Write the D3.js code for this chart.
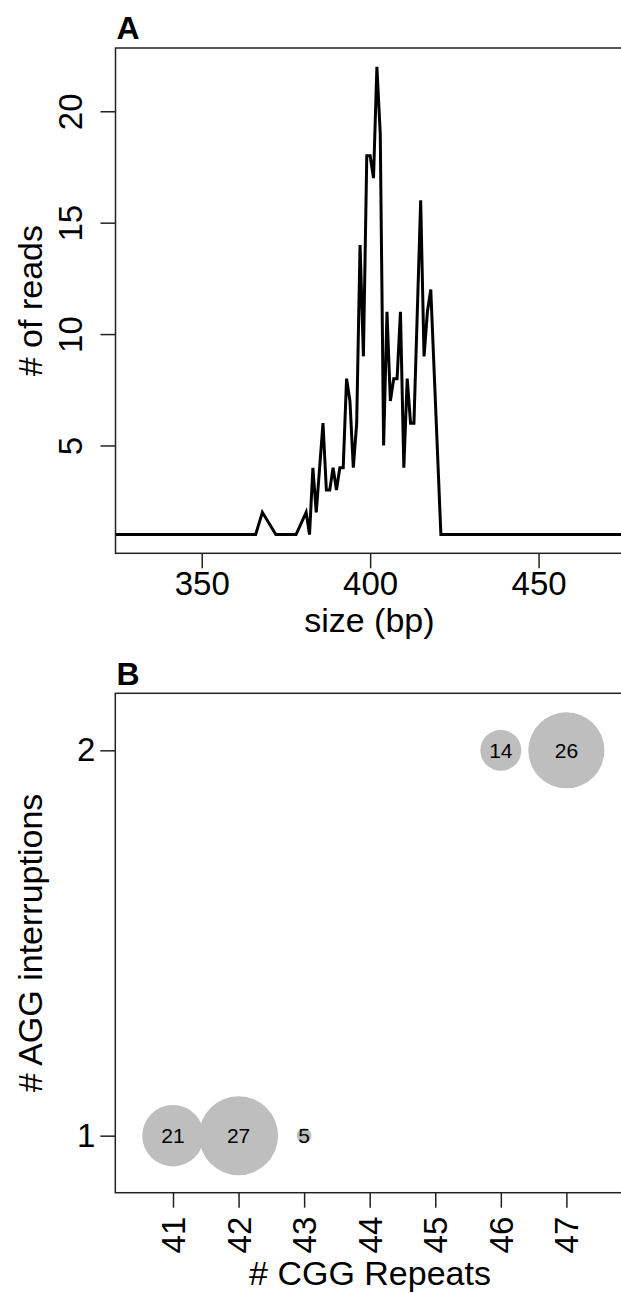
<!DOCTYPE html>
<html>
<head>
<meta charset="utf-8">
<script src="https://cdn.jsdelivr.net/npm/d3@7"></script>
<style>
  html, body { margin: 0; padding: 0; background: #fff; }
  svg text { font-family: "Liberation Sans", Arial, Helvetica, sans-serif; fill: #000; }
</style>
</head>
<body>
<div class="visHolder"></div>
<script>
// panel A: read length distribution
const sizes = [320, 366, 368, 372, 378, 381, 382, 383, 384, 385, 386, 387, 388, 389, 390, 391, 392,
  393, 394, 395, 396, 397, 398, 399, 400, 401, 402, 403, 404, 405, 406, 407, 408, 409, 410, 411,
  412, 413, 415, 416, 417, 418, 421, 480];
const reads = [1, 1, 2, 1, 1, 2, 1, 4, 2, 4, 6, 3, 3, 4, 3, 4, 4,
  8, 7, 4, 6, 14, 9, 18, 18, 17, 22, 19, 5, 11, 7, 8, 8, 11, 4, 8,
  6, 6, 16, 9, 11, 12, 1, 1];
const sizeTicks = [350, 400, 450];
const readTicks = [5, 10, 15, 20];

// panel B: repeat length vs AGG interruptions
const cggRepeats = [41, 42, 43, 46, 47];
const aggInterruptions = [1, 1, 1, 2, 2];
const alleleCounts = [21, 27, 5, 14, 26];
const cggTicks = [41, 42, 43, 44, 45, 46, 47];
const aggTicks = [1, 2];

const w = 621, h = 1293;
const boxStroke = '#222';
const tickLen = 15;

const svg = d3.select('.visHolder')
  .append('svg')
  .attr('width', w)
  .attr('height', h)
  .attr('viewBox', `0 0 ${w} ${h}`);

// ---------- panel A ----------
const ax = {left: 115.5, right: 624.8, top: 48, bottom: 553.3};

const xA = d3.scaleLinear().domain([324.4, 475.6]).range([ax.left, ax.right]);
const yA = d3.scaleLinear().domain([0.16, 22.84]).range([ax.bottom, ax.top]);

svg.append('clipPath')
  .attr('id', 'clipA')
  .append('rect')
  .attr('x', ax.left).attr('y', ax.top)
  .attr('width', ax.right - ax.left).attr('height', ax.bottom - ax.top);

const lineData = sizes.map((s, i) => ({size: s, reads: reads[i]}));

svg.append('path')
  .datum(lineData)
  .attr('clip-path', 'url(#clipA)')
  .attr('fill', 'none')
  .attr('stroke', '#000')
  .attr('stroke-width', 3)
  .attr('d', d3.line()
    .x(d => xA(d.size))
    .y(d => yA(d.reads))
  );

svg.append('rect')
  .attr('x', ax.left).attr('y', ax.top)
  .attr('width', ax.right - ax.left).attr('height', ax.bottom - ax.top)
  .attr('fill', 'none')
  .attr('stroke', boxStroke)
  .attr('stroke-width', 1.5);

const xAxisA = svg.append('g')
  .attr('transform', `translate(0, ${ax.bottom})`)
  .call(d3.axisBottom(xA).tickValues(sizeTicks).tickSize(tickLen).tickSizeOuter(0).tickPadding(3));
xAxisA.select('.domain').remove();
xAxisA.selectAll('line').attr('stroke', boxStroke).attr('stroke-width', 1.5);
xAxisA.selectAll('text')
  .attr('font-size', 33)
  .attr('font-family', null)
  .attr('fill', '#000');

const yAxisA = svg.append('g')
  .attr('transform', `translate(${ax.left}, 0)`)
  .call(d3.axisLeft(yA).tickValues(readTicks).tickSize(tickLen).tickSizeOuter(0));
yAxisA.select('.domain').remove();
yAxisA.selectAll('line').attr('stroke', boxStroke).attr('stroke-width', 1.5);
// R style: y labels parallel to the axis
yAxisA.selectAll('text')
  .attr('font-size', 33)
  .attr('font-family', null)
  .attr('fill', '#000')
  .attr('x', 0).attr('y', 0).attr('dy', null)
  .attr('text-anchor', 'middle')
  .attr('transform', `translate(${81.7 - ax.left}, 0) rotate(-90)`);

svg.append('text')
  .attr('x', 369.4)
  .attr('y', 632)
  .attr('text-anchor', 'middle')
  .attr('font-size', 34)
  .text('size (bp)');

svg.append('text')
  .attr('transform', `translate(41.7, ${(ax.top + ax.bottom) / 2}) rotate(-90)`)
  .attr('text-anchor', 'middle')
  .attr('font-size', 34)
  .text('# of reads');

svg.append('text')
  .attr('x', 116.5)
  .attr('y', 39)
  .attr('font-size', 32)
  .attr('font-weight', 'bold')
  .text('A');

// ---------- panel B ----------
const bx = {left: 115.3, right: 625.4, top: 693.3, bottom: 1192.7};

const xB = d3.scaleLinear().domain([40.12, 47.9]).range([bx.left, bx.right]);
const yB = d3.scaleLinear().domain([0.852, 2.148]).range([bx.bottom, bx.top]);
const rB = d3.scaleLinear().domain([0, d3.max(alleleCounts)]).range([0, 39.5]);

const bubbles = cggRepeats.map((c, i) => ({cgg: c, agg: aggInterruptions[i], n: alleleCounts[i]}));

svg.selectAll('.bubble')
  .data(bubbles)
  .enter()
  .append('circle')
  .attr('class', 'bubble')
  .attr('cx', d => xB(d.cgg))
  .attr('cy', d => yB(d.agg))
  .attr('r', d => rB(d.n))
  .attr('fill', '#bebebe');

svg.selectAll('.bubble-label')
  .data(bubbles)
  .enter()
  .append('text')
  .attr('class', 'bubble-label')
  .attr('x', d => xB(d.cgg))
  .attr('y', d => yB(d.agg))
  .attr('dy', '0.35em')
  .attr('text-anchor', 'middle')
  .attr('font-size', 21)
  .text(d => d.n);

svg.append('rect')
  .attr('x', bx.left).attr('y', bx.top)
  .attr('width', bx.right - bx.left).attr('height', bx.bottom - bx.top)
  .attr('fill', 'none')
  .attr('stroke', boxStroke)
  .attr('stroke-width', 1.5);

const xAxisB = svg.append('g')
  .attr('transform', `translate(0, ${bx.bottom})`)
  .call(d3.axisBottom(xB).tickValues(cggTicks).tickSize(tickLen).tickSizeOuter(0));
xAxisB.select('.domain').remove();
xAxisB.selectAll('line').attr('stroke', boxStroke).attr('stroke-width', 1.5);
// labels perpendicular to the axis (las = 2)
xAxisB.selectAll('text')
  .attr('font-size', 33)
  .attr('font-family', null)
  .attr('fill', '#000')
  .attr('y', 0)
  .attr('dy', '0.35em')
  .attr('text-anchor', 'end')
  .attr('transform', `translate(0, 24) rotate(-90)`);

const yAxisB = svg.append('g')
  .attr('transform', `translate(${bx.left}, 0)`)
  .call(d3.axisLeft(yB).tickValues(aggTicks).tickFormat(d3.format('d'))
    .tickSize(tickLen).tickSizeOuter(0).tickPadding(5));
yAxisB.select('.domain').remove();
yAxisB.selectAll('line').attr('stroke', boxStroke).attr('stroke-width', 1.5);
yAxisB.selectAll('text')
  .attr('font-size', 33)
  .attr('font-family', null)
  .attr('fill', '#000');

svg.append('text')
  .attr('x', 370)
  .attr('y', 1285)
  .attr('text-anchor', 'middle')
  .attr('font-size', 34)
  .text('# CGG Repeats');

svg.append('text')
  .attr('transform', `translate(41.7, ${(bx.top + bx.bottom) / 2}) rotate(-90)`)
  .attr('text-anchor', 'middle')
  .attr('font-size', 34)
  .text('# AGG interruptions');

svg.append('text')
  .attr('x', 116.5)
  .attr('y', 685)
  .attr('font-size', 32)
  .attr('font-weight', 'bold')
  .text('B');
</script>
</body>
</html>
